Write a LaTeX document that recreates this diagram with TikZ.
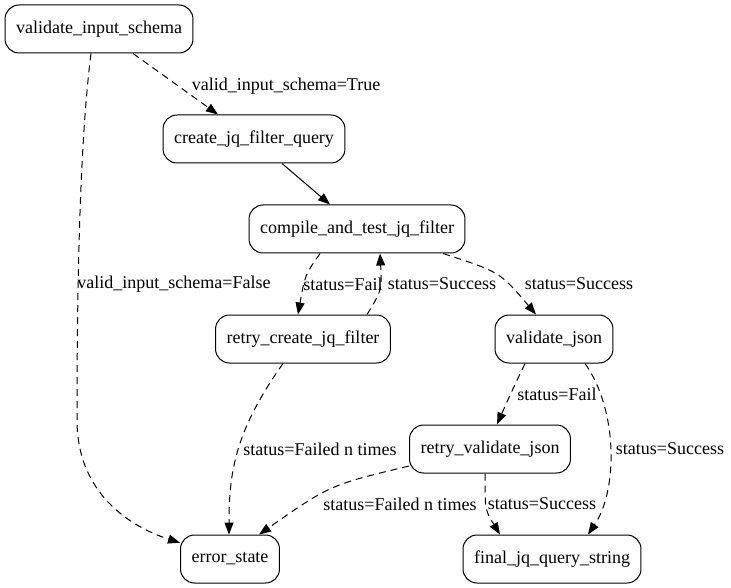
\documentclass[tikz,border=0pt]{standalone}
\usepackage{fontspec}
\setmainfont{Liberation Serif}
\usetikzlibrary{arrows.meta}

\begin{document}
\begin{tikzpicture}[x=1pt, y=-1pt,
  statebox/.style={draw, line width=1pt, rounded corners=14pt, minimum height=48pt,
    inner xsep=11pt, font=\fontsize{18}{22}\selectfont},
  flow/.style={-{Triangle[length=12pt, width=9pt]}, line width=1pt},
  cond/.style={flow, dash pattern=on 7pt off 5pt},
  edgelabel/.style={font=\fontsize{18}{22}\selectfont, inner sep=1pt}
]
\useasboundingbox (0,0) rectangle (731,588);

% states
\node[statebox] (vis)     at (99,29)  {validate\_input\_schema};
\node[statebox] (create)  at (254,139) {create\_jq\_filter\_query};
\node[statebox] (compile) at (357,229) {compile\_and\_test\_jq\_filter};
\node[statebox] (rcreate) at (303,339) {retry\_create\_jq\_filter};
\node[statebox] (vjson)   at (554,339) {validate\_json};
\node[statebox] (rvjson)  at (490,449) {retry\_validate\_json};
\node[statebox] (error)   at (230,559) {error\_state};
\node[statebox] (final)   at (552,559) {final\_jq\_query\_string};

% transitions
\draw[cond] ([xshift=34pt]vis.south) -- ([xshift=-36pt]create.north);
\node[edgelabel] (lbltrue) at (286,86) {valid\_input\_schema=True};

\draw[flow] ([xshift=28pt]create.south) -- ([xshift=-27pt]compile.north);

\draw[cond] ([xshift=-8pt]vis.south) .. controls (80,140) and (77,280) .. (77,420)
  .. controls (77,500) and (140,530) .. (error.162);
\node[edgelabel] (lblfalse) at (174,284) {valid\_input\_schema=False};

\draw[cond] ([xshift=-37pt]compile.south) .. controls (305,275) .. ([xshift=-5pt]rcreate.north);
\node[edgelabel] (lblfail) at (343,284) {status=Fail};

\draw[cond] ([xshift=64pt]rcreate.north) .. controls (382,290) .. ([xshift=23pt]compile.south);
\node[edgelabel] (lblsucc) at (442,284) {status=Success};

\draw[cond] ([xshift=86pt]compile.south) .. controls (500,272) .. ([xshift=-18pt]vjson.north);
\node[edgelabel] (lblvj) at (579,284) {status=Success};

\draw[cond] ([xshift=-20pt]rcreate.south) .. controls (236,430) and (229,470) .. ([xshift=-1pt]error.north);
\node[edgelabel] (lblrc) at (320,449) {status=Failed n times};

\draw[cond] ([xshift=-29pt]vjson.south) .. controls (510,395) .. ([xshift=7pt]rvjson.north);
\node[edgelabel] (lblvfail) at (557,394) {status=Fail};

\draw[cond] ([xshift=31pt]vjson.south) .. controls (618,410) and (618,490) .. ([xshift=36pt]final.north);
\node[edgelabel] (lblvsucc) at (670,449) {status=Success};

\draw[cond] ([yshift=-17pt]rvjson.west) .. controls (330,485) .. ([xshift=29pt]error.north);
\node[edgelabel] (lblrfail) at (400,504) {status=Failed n times};

\draw[cond] ([xshift=-5pt]rvjson.south) .. controls (485,510) .. ([xshift=-52pt]final.north);
\node[edgelabel] (lblrsucc) at (542,504) {status=Success};
\end{tikzpicture}
\end{document}
